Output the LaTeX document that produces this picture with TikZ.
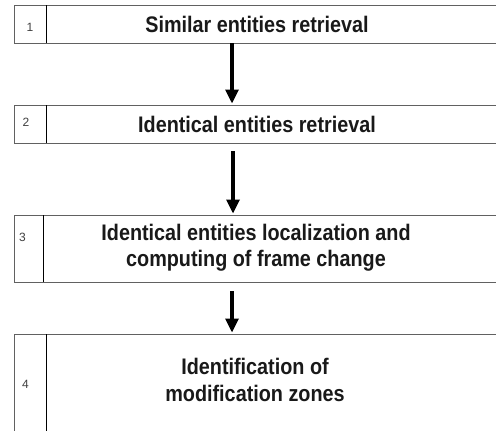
\documentclass[tikz,border=0pt]{standalone}
\usepackage{fontspec}
\setmainfont{Liberation Sans}
\newfontfamily\headfont[FakeStretch=0.88]{Liberation Sans}
\usetikzlibrary{arrows.meta}

\tikzset{
  stagebox/.style={draw=black!62, line width=1.2bp, fill=white, rectangle,
    anchor=north west, minimum width=540bp, inner sep=0pt},
  divider/.style={draw=black, line width=1bp},
  title/.style={font=\headfont\bfseries\fontsize{22.5bp}{26.5bp}\selectfont,
    text=black!90, align=center, anchor=base, inner sep=0pt},
  num/.style={font=\fontsize{12bp}{13bp}\selectfont, text=black!75, inner sep=0pt},
  flow/.style={draw=black, line width=3.2bp,
    -{Triangle[width=13bp,length=14bp]}, shorten >=1.5bp}
}

\begin{document}
\begin{tikzpicture}[x=1bp, y=-1bp]
  \useasboundingbox (0,0) rectangle (496,430);
  \clip (0,0) rectangle (496,430);
  \fill[white] (0,0) rectangle (496,430);

  % stage frames
  \node[stagebox, minimum height=38bp] (b1) at (14,5) {};
  \node[stagebox, minimum height=38bp] (b2) at (14,105) {};
  \node[stagebox, minimum height=67bp] (b3) at (14,215) {};
  \node[stagebox, minimum height=130bp] (b4) at (14,334) {};

  % number column separators
  \draw[divider] (46,5) -- (46,43);
  \draw[divider] (46,105) -- (46,143);
  \draw[divider] (43,215) -- (43,282);
  \draw[divider] (46,334) -- (46,464);

  % step numbers
  \node[num] (n1) at (30,27.5) {1};
  \node[num] (n2) at (26,122.5) {2};
  \node[num] (n3) at (22.5,237.5) {3};
  \node[num] (n4) at (25.5,384) {4};

  % step titles (anchor=base sits on the last line's baseline)
  \node[title] (t1) at (257,32) {Similar entities retrieval};
  \node[title] (t2) at (257,132) {Identical entities retrieval};
  \node[title] (t3) at (256,266.5) {Identical entities localization and\\computing of frame change};
  \node[title] (t4) at (255,401) {Identification of\\modification zones};

  % flow between stages
  \coordinate (a1s) at (232,43);
  \coordinate (a2s) at (233,151);
  \coordinate (a3s) at (232,291);
  \draw[flow] (a1s) -- (a1s |- b2.north);
  \draw[flow] (a2s) -- (a2s |- b3.north);
  \draw[flow] (a3s) -- (a3s |- b4.north);
\end{tikzpicture}
\end{document}
